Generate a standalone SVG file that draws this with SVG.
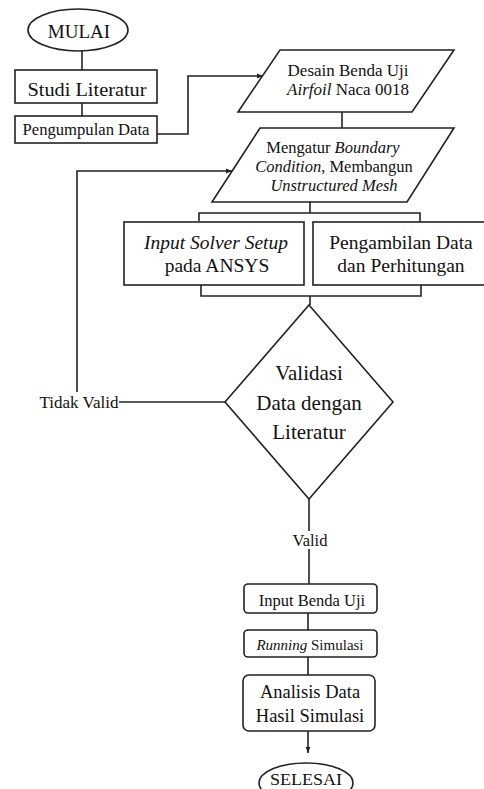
<svg xmlns="http://www.w3.org/2000/svg" width="484" height="789" viewBox="0 0 484 789">
<style>
.s{fill:#fff;stroke:#222;stroke-width:1.6}
.c{fill:none;stroke:#222;stroke-width:1.6}
text{font-family:"Liberation Serif","Times New Roman",serif;fill:#111;text-anchor:middle;dominant-baseline:central}
.i{font-style:italic}
</style>
<defs>
<marker id="ah" viewBox="0 0 10 10" refX="10" refY="5" markerWidth="6" markerHeight="6" orient="auto" markerUnits="userSpaceOnUse"><path d="M0,1 L10,5 L0,9 Z" fill="#222"/></marker>
</defs>
<rect width="484" height="789" fill="#fff"/>
<g id="connectors">
<line class="c" x1="82" y1="50" x2="82" y2="70"/>
<line class="c" x1="82" y1="103" x2="82" y2="116"/>
<polyline class="c" points="157,134 188,134 188,76 263,76" marker-end="url(#ah)"/>
<line class="c" x1="342" y1="112" x2="342" y2="128"/>
<line class="c" x1="310" y1="202" x2="310" y2="213"/>
<polyline class="c" points="199,221 199,213 420,213 420,222"/>
<polyline class="c" points="201,285 201,296 421,296 421,285"/>
<line class="c" x1="310" y1="296" x2="310" y2="305"/>
<line class="c" x1="225" y1="402" x2="119" y2="402"/>
<polyline class="c" points="77,392 77,171 232,171" marker-end="url(#ah)"/>
<line class="c" x1="309" y1="499" x2="309" y2="531"/>
<line class="c" x1="309" y1="549" x2="309" y2="584"/>
<line class="c" x1="308" y1="613" x2="308" y2="630"/>
<line class="c" x1="308" y1="657" x2="308" y2="675"/>
<line class="c" x1="308" y1="731" x2="308" y2="753" marker-end="url(#ah)"/>
</g>
<g id="mulai">
<ellipse class="s" cx="78" cy="30" rx="50" ry="21"/>
<text x="79" y="31" font-size="19">MULAI</text>
</g>
<g id="studi">
<rect class="s" x="15" y="70" width="142" height="33"/>
<text x="87" y="89" font-size="19" textLength="119" lengthAdjust="spacingAndGlyphs">Studi Literatur</text>
</g>
<g id="pengumpulan">
<rect class="s" x="15" y="116" width="142" height="27"/>
<text x="86" y="129" font-size="16.5" textLength="127" lengthAdjust="spacingAndGlyphs">Pengumpulan Data</text>
</g>
<g id="desain">
<polygon class="s" points="280,50 454,50 412,112 238,112"/>
<text x="348" y="70" font-size="17">Desain Benda Uji</text>
<text x="348" y="89" font-size="17"><tspan class="i">Airfoil</tspan> Naca 0018</text>
</g>
<g id="mengatur">
<polygon class="s" points="260,128 454,128 407,202 212,202"/>
<text x="333" y="147" font-size="16.5">Mengatur <tspan class="i">Boundary</tspan></text>
<text x="334" y="166" font-size="16.5"><tspan class="i">Condition</tspan>, Membangun</text>
<text x="334" y="185" font-size="16.5" class="i">Unstructured Mesh</text>
</g>
<g id="input-solver">
<rect class="s" x="124" y="222" width="180" height="63"/>
<text x="216" y="242" font-size="19.5" class="i">Input Solver Setup</text>
<text x="217" y="265" font-size="19.5">pada ANSYS</text>
</g>
<g id="pengambilan">
<rect class="s" x="313" y="222" width="180" height="63"/>
<text x="401" y="242" font-size="19.5">Pengambilan Data</text>
<text x="401" y="265" font-size="19.5">dan Perhitungan</text>
</g>
<g id="validasi">
<polygon class="s" points="309,305 393,402 309,499 225,402"/>
<text x="309" y="373" font-size="21">Validasi</text>
<text x="309" y="403" font-size="21">Data dengan</text>
<text x="309" y="432" font-size="21">Literatur</text>
</g>
<g id="label-tidak-valid">
<text x="79" y="402" font-size="16.5" textLength="79" lengthAdjust="spacingAndGlyphs">Tidak Valid</text>
</g>
<g id="label-valid">
<text x="310" y="540" font-size="16.5">Valid</text>
</g>
<g id="input-benda">
<rect class="s" x="244" y="584" width="133" height="29" rx="4"/>
<text x="312" y="600" font-size="16.5">Input Benda Uji</text>
</g>
<g id="running">
<rect class="s" x="244" y="630" width="133" height="27" rx="4"/>
<text x="310" y="645" font-size="15"><tspan class="i">Running</tspan> Simulasi</text>
</g>
<g id="analisis">
<rect class="s" x="243" y="675" width="132" height="56" rx="6"/>
<text x="310" y="692" font-size="18.5">Analisis Data</text>
<text x="310" y="716" font-size="18.5">Hasil Simulasi</text>
</g>
<g id="selesai">
<ellipse class="s" cx="306" cy="783" rx="47" ry="20"/>
<text x="306" y="779" font-size="17" textLength="72" lengthAdjust="spacingAndGlyphs">SELESAI</text>
</g>
</svg>
